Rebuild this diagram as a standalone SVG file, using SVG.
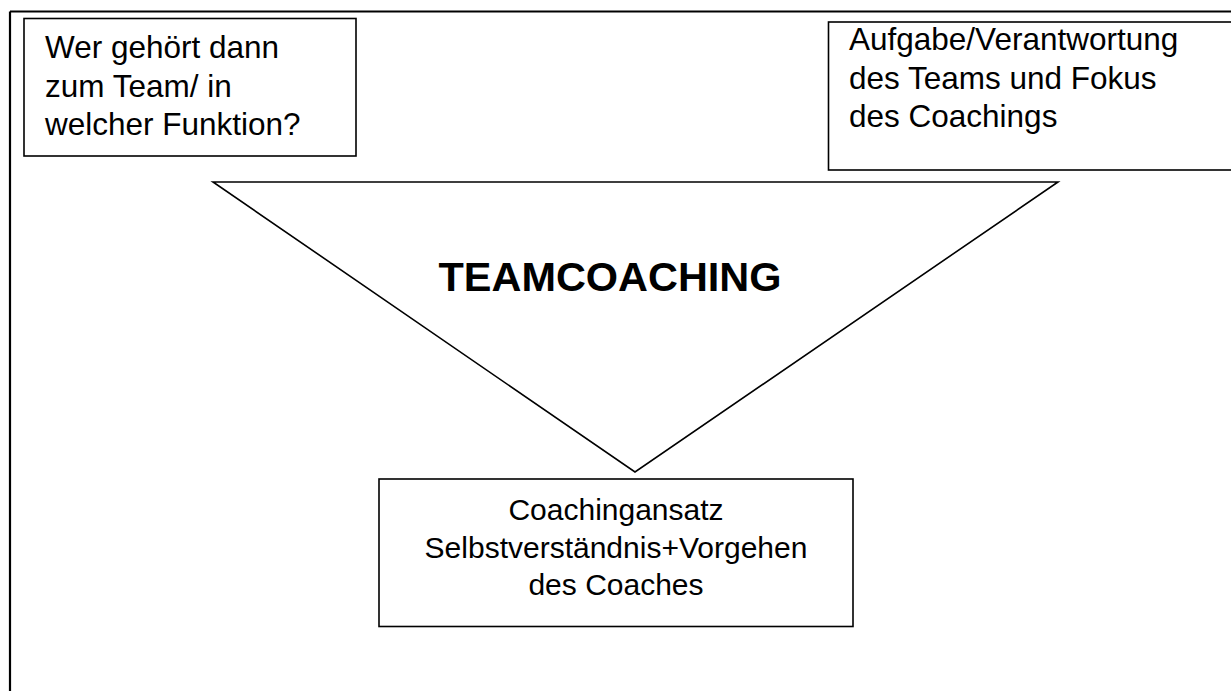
<svg xmlns="http://www.w3.org/2000/svg" width="1231" height="691" viewBox="0 0 1231 691">
<style>
.box{fill:#fff;stroke:#000;stroke-width:1.6}
.t{font-family:"Liberation Sans",Arial,sans-serif;font-size:31.5px;fill:#000}
.tc{font-family:"Liberation Sans",Arial,sans-serif;font-size:30px;fill:#000}
.b{font-family:"Liberation Sans",Arial,sans-serif;font-size:41px;font-weight:bold;fill:#000}
</style>
<rect x="0" y="0" width="1231" height="691" fill="#fff"/>
<g id="frame" fill="none" stroke="#000" stroke-width="2.2">
<line x1="10" y1="11.5" x2="1231" y2="11.5"/>
<line x1="10" y1="11.5" x2="10" y2="691"/>
</g>
<g id="triangle">
<polygon points="213,182 1058,182 635,472" fill="#fff" stroke="#000" stroke-width="1.6"/>
<text class="b" x="610" y="291" text-anchor="middle" textLength="343" lengthAdjust="spacingAndGlyphs">TEAMCOACHING</text>
</g>
<g id="box-left">
<rect class="box" x="24" y="18.5" width="332" height="137.5"/>
<text class="t" x="45" y="58">Wer gehört dann</text>
<text class="t" x="45" y="96.5">zum Team/ in</text>
<text class="t" x="45" y="135">welcher Funktion?</text>
</g>
<g id="box-right">
<rect class="box" x="828.5" y="22" width="420" height="148"/>
<text class="t" x="849" y="50">Aufgabe/Verantwortung</text>
<text class="t" x="849" y="88.5">des Teams und Fokus</text>
<text class="t" x="849" y="127">des Coachings</text>
</g>
<g id="box-bottom">
<rect class="box" x="379" y="479" width="474" height="147.5"/>
<text class="tc" x="616" y="520" text-anchor="middle">Coachingansatz</text>
<text class="tc" x="616" y="558" text-anchor="middle">Selbstverständnis+Vorgehen</text>
<text class="tc" x="616" y="595" text-anchor="middle">des Coaches</text>
</g>
<g id="connectors"></g>
</svg>
